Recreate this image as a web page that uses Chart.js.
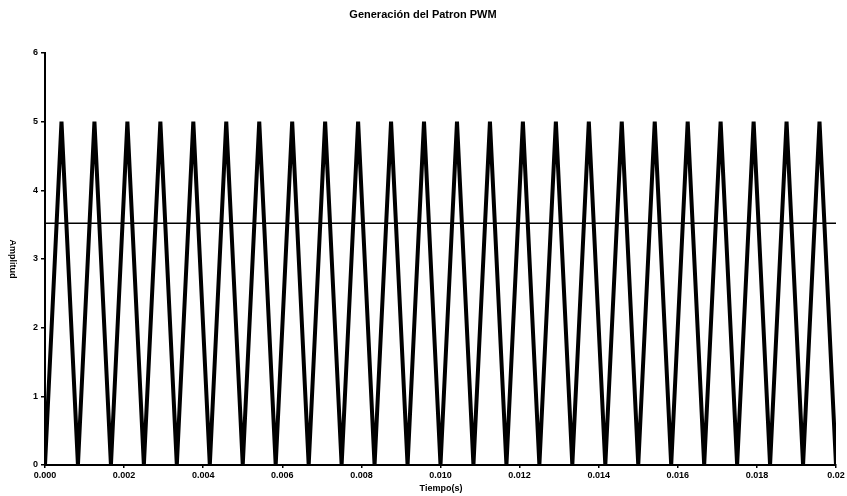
<!DOCTYPE html>
<html>
<head>
<meta charset="utf-8">
<script src="https://cdn.jsdelivr.net/npm/chart.js@4"></script>
<style>
  html, body { margin: 0; padding: 0; background: #fff; }
  #wrap { width: 847px; height: 496px; }
</style>
</head>
<body>
<div id="wrap"><canvas id="chart"></canvas></div>
<script>
/* ---------- Datos ---------- */
// vértices de la portadora triangular (s) y su amplitud
const tiempo = [0, 0.000417, 0.000833, 0.00125, 0.001667, 0.002083, 0.0025, 0.002917, 0.003333, 0.00375,
  0.004167, 0.004583, 0.005, 0.005417, 0.005833, 0.00625, 0.006667, 0.007083, 0.0075, 0.007917,
  0.008333, 0.00875, 0.009167, 0.009583, 0.01, 0.010417, 0.010833, 0.01125, 0.011667, 0.012083,
  0.0125, 0.012917, 0.013333, 0.01375, 0.014167, 0.014583, 0.015, 0.015417, 0.015833, 0.01625,
  0.016667, 0.017083, 0.0175, 0.017917, 0.018333, 0.01875, 0.019167, 0.019583, 0.02];
const amplitud = [0, 5, 0, 5, 0, 5, 0, 5, 0, 5,
  0, 5, 0, 5, 0, 5, 0, 5, 0, 5,
  0, 5, 0, 5, 0, 5, 0, 5, 0, 5,
  0, 5, 0, 5, 0, 5, 0, 5, 0, 5,
  0, 5, 0, 5, 0, 5, 0, 5, 0];
// señal de referencia (nivel constante)
const refTiempo = [0, 0.02];
const refNivel = [3.52, 3.52];

const xTicks = ["0.000", "0.002", "0.004", "0.006", "0.008", "0.010", "0.012", "0.014", "0.016", "0.018", "0.02"];
const yTicks = ["0", "1", "2", "3", "4", "5", "6"];

const TITULO = "Generación del Patron PWM";
const X_TITULO = "Tiempo(s)";
const Y_TITULO = "Amplitud";

/* ---------- Gráfico ---------- */
const FONT = "'Liberation Sans', Arial, sans-serif";

const textos = {
  id: "textos",
  afterDraw(chart) {
    const ctx = chart.ctx;
    ctx.save();
    ctx.fillStyle = "#000";
    ctx.textAlign = "center";
    ctx.textBaseline = "middle";
    ctx.font = "bold 11px " + FONT;
    ctx.fillText(TITULO, 423, 15);
    ctx.font = "bold 9px " + FONT;
    ctx.fillText(X_TITULO, 441, 489);
    ctx.translate(12, 259);
    ctx.rotate(Math.PI / 2);
    ctx.fillText(Y_TITULO, 0, 0);
    ctx.restore();
  }
};

new Chart(document.getElementById("chart"), {
  type: "scatter",
  data: {
    datasets: [
      {
        data: tiempo.map((t, i) => ({ x: t, y: amplitud[i] })),
        showLine: true, borderColor: "#000", borderWidth: 4,
        pointRadius: 0, tension: 0
      },
      {
        data: refTiempo.map((t, i) => ({ x: t, y: refNivel[i] })),
        showLine: true, borderColor: "#000", borderWidth: 1.5,
        pointRadius: 0, tension: 0
      }
    ]
  },
  options: {
    responsive: true, maintainAspectRatio: false, animation: false,
    layout: { padding: { top: 53, right: 11, left: 0, bottom: 0 } },
    plugins: { legend: { display: false }, tooltip: { enabled: false }, title: { display: false } },
    scales: {
      x: {
        type: "linear", min: 0, max: 0.02,
        afterFit: (s) => { s.height = 31; },
        afterBuildTicks: (s) => { s.ticks = xTicks.map((_, i) => ({ value: i * 0.002 })); },
        ticks: {
          autoSkip: false, maxRotation: 0, padding: 2, color: "#000",
          font: { family: FONT, size: 9, weight: "bold" },
          callback: (v, i) => xTicks[i]
        },
        grid: { drawOnChartArea: false, drawTicks: true, tickLength: 3, color: "#000", lineWidth: 1.5 },
        border: { display: true, color: "#000", width: 2 }
      },
      y: {
        min: 0, max: 6,
        afterFit: (s) => { s.width = 45; },
        ticks: {
          stepSize: 1, padding: 3, color: "#000",
          font: { family: FONT, size: 9, weight: "bold" },
          callback: (v, i) => yTicks[i]
        },
        grid: { drawOnChartArea: false, drawTicks: true, tickLength: 4, color: "#000", lineWidth: 1.5 },
        border: { display: true, color: "#000", width: 2 }
      }
    }
  },
  plugins: [textos]
});
</script>
</body>
</html>
